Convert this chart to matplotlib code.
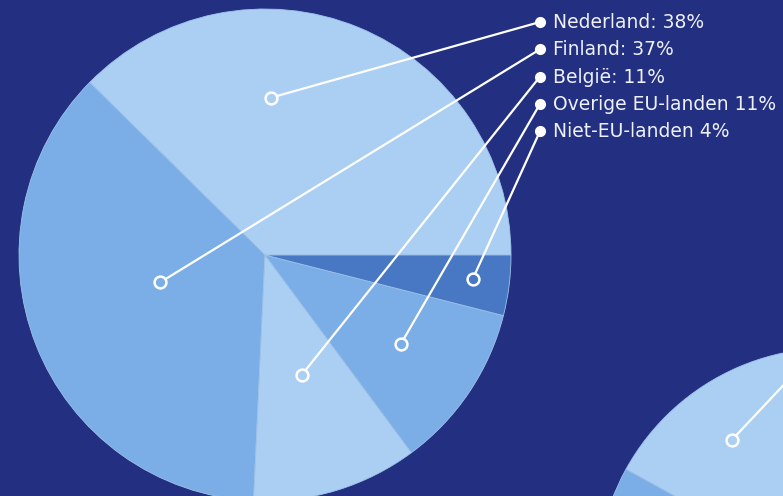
import matplotlib.pyplot as plt
import numpy as np

labels = ['Nederland', 'Finland', 'België', 'Overige EU-landen', 'Niet-EU-landen']
shares = [38, 37, 11, 11, 4]
label_texts = ['Nederland: 38%', 'Finland: 37%', 'België: 11%',
               'Overige EU-landen 11%', 'Niet-EU-landen 4%']
# second (partly visible) pie, only its first two slices show
shares_2 = [42, 40, 10, 6, 2]

bg = '#232f80'
light = '#aacff2'
medium = '#7badE6'
dark = '#4878c3'
slice_colors = [light, medium, light, medium, dark]

# marker placement inside each slice: angle (deg) and fraction of radius
anchor_ang = [87.8, 194.6, 287.0, 326.8, 353.4]
anchor_rad = [0.64, 0.44, 0.51, 0.66, 0.85]

W, H = 783, 496
fig = plt.figure(figsize=(W / 100, H / 100), dpi=100, facecolor=bg)
ax = fig.add_axes([0, 0, 1, 1])
ax.set_facecolor(bg)

c1 = (265, H - 255)
r1 = 246
ax.pie(shares, colors=slice_colors, startangle=0, counterclock=True,
       center=c1, radius=r1, frame=True,
       wedgeprops=dict(linewidth=0.6, edgecolor='#9fc3ea'))

c2 = (831, H - 582)
r2 = 234
ax.pie(shares_2, colors=[light, medium, light, medium, dark], startangle=0,
       center=c2, radius=r2, frame=True,
       wedgeprops=dict(linewidth=0.6, edgecolor='#9fc3ea'))

ax.set_xlim(0, W)
ax.set_ylim(0, H)
ax.set_aspect('equal')
ax.axis('off')

text_x = 553
dot_x = 540
top_y = H - 22
step = 27.3
for i, txt in enumerate(label_texts):
    a = np.deg2rad(anchor_ang[i])
    mx = c1[0] + anchor_rad[i] * r1 * np.cos(a)
    my = c1[1] + anchor_rad[i] * r1 * np.sin(a)
    ly = top_y - i * step
    ax.plot([mx, dot_x], [my, ly], color='white', lw=1.6, zorder=5,
            solid_capstyle='round')
    ax.plot(dot_x, ly, 'o', color='white', ms=7, zorder=6)
    ax.plot(mx, my, 'o', mfc=slice_colors[i], mec='white', mew=1.8, ms=8.5, zorder=6)
    ax.text(text_x, ly - 0.5, txt, color='#eef1f8', fontsize=13.5, family='DejaVu Sans',
            va='center', ha='left', zorder=7)

# marker on the second pie, its line runs off the canvas
a = np.deg2rad(125)
mx2 = c2[0] + 0.74 * r2 * np.cos(a)
my2 = c2[1] + 0.74 * r2 * np.sin(a)
ax.plot([mx2, mx2 + 80], [my2, my2 + 85], color='white', lw=1.6, zorder=5)
ax.plot(mx2, my2, 'o', mfc=light, mec='white', mew=1.8, ms=8.5, zorder=6)

fig.savefig('out.png', dpi=100, facecolor=bg)
